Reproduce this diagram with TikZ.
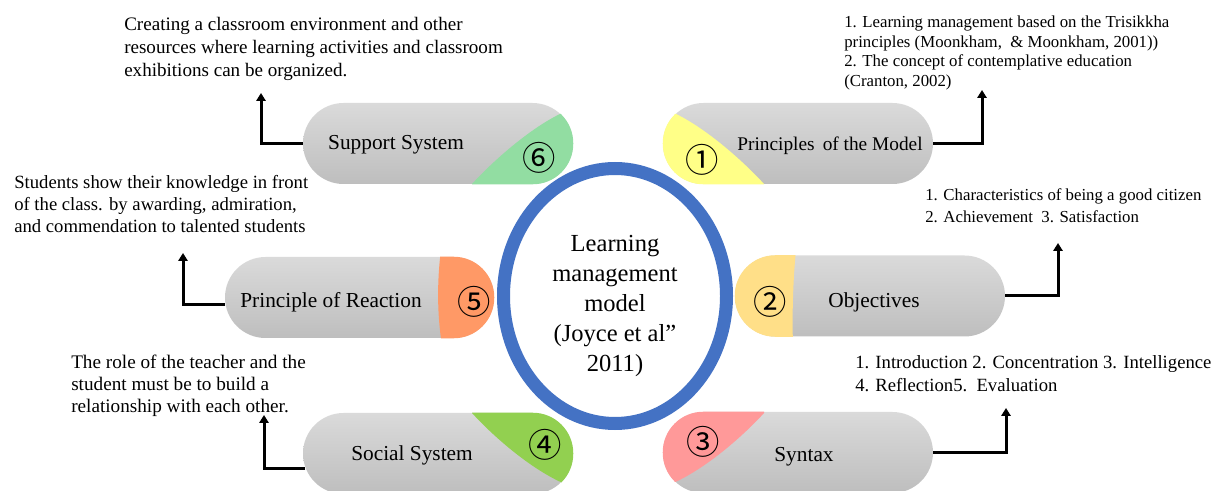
\documentclass[tikz,border=0pt]{standalone}
\usepackage{fontspec}
\setmainfont{Liberation Serif}
\newfontfamily\cjk{Noto Sans CJK SC}
\usetikzlibrary{arrows.meta,shapes.geometric}
\definecolor{pilltop}{HTML}{DADADA}
\definecolor{pillbot}{HTML}{BEBEBE}
\definecolor{cgreenA}{HTML}{92DDA2}
\definecolor{cyellow}{HTML}{FFFF87}
\definecolor{corange}{HTML}{FF9966}
\definecolor{cgold}{HTML}{FFDF88}
\definecolor{cpink}{HTML}{FF9999}
\definecolor{cgreenB}{HTML}{92D050}
\definecolor{ringblue}{HTML}{4472C4}
\begin{document}
\begin{tikzpicture}[x=0.75pt,y=-0.75pt,
  pill/.style={rectangle, rounded corners=30.375pt, minimum width=202.5pt, minimum height=60.75pt, inner sep=0pt, top color=pilltop, bottom color=pillbot, draw=none},
  pillclip/.style={rounded corners=30.375pt},
  lbl/.style={font=\fontsize{16}{19}\selectfont, anchor=base, inner sep=0pt},
  num/.style={font=\cjk\fontsize{25}{25}\selectfont, inner sep=0pt},
  ann/.style={align=left, anchor=north west, inner sep=0pt},
  conn/.style={line width=2.25pt, -{Triangle[width=7pt,length=6pt]}},
]
\useasboundingbox (0,0) rectangle (1225,491);

% pills
\node[pill] (sup) at (438,143.5) {};
\node[pill] (pri) at (798,143.5) {};
\node[pill, minimum width=201.75pt] (rea) at (359.5,297.5) {};
\node[pill] (obj) at (870,296) {};
\node[pill] (soc) at (438,453.5) {};
\node[pill] (syn) at (798,452.5) {};

% coloured parts
\begin{scope}
  \clip[pillclip] (sup.south west) rectangle (sup.north east);
  \fill[cgreenA] (472,184) .. controls (492,162) and (530,128) .. (562,113) -- (600,90) -- (600,200) -- (472,200) -- cycle;
\end{scope}
\begin{scope}
  \clip[pillclip] (pri.south west) rectangle (pri.north east);
  \fill[cyellow] (764,184) .. controls (744,162) and (706,128) .. (674,113) -- (636,90) -- (636,200) -- (764,200) -- cycle;
\end{scope}
\begin{scope}
  \clip[pillclip] (rea.south west) rectangle (rea.north east);
  \fill[corange] (441,250) .. controls (437,280) and (437,315) .. (442,345) -- (510,345) -- (510,250) -- cycle;
\end{scope}
\begin{scope}
  \clip[pillclip] (obj.south west) rectangle (obj.north east);
  \fill[cgold] (796,250) .. controls (793,280) and (792,315) .. (793,345) -- (720,345) -- (720,250) -- cycle;
\end{scope}
\begin{scope}
  \clip[pillclip] (soc.south west) rectangle (soc.north east);
  \fill[cgreenB] (472,413) .. controls (492,435) and (530,469) .. (565,484) -- (600,500) -- (600,400) -- (472,400) -- cycle;
\end{scope}
\begin{scope}
  \clip[pillclip] (syn.south west) rectangle (syn.north east);
  \fill[cpink] (764,413) .. controls (744,435) and (706,469) .. (671,484) -- (636,500) -- (636,400) -- (764,400) -- cycle;
\end{scope}

% pill labels
\node[lbl] (supL) at (396,150) {Support System};
\node[lbl, font=\fontsize{14.5}{17}\selectfont] (priL) at (830,151) {Principles\, of the Model};
\node[lbl] (reaL) at (331,308) {Principle of Reaction};
\node[lbl] (objL) at (874,308) {Objectives};
\node[lbl] (socL) at (412,461) {Social System};
\node[lbl] (synL) at (804,462) {Syntax};

% circled numbers
\node[num] (n6) at (539,158) {⑥};
\node[num] (n1) at (702,160) {①};
\node[num] (n5) at (474,302) {⑤};
\node[num] (n2) at (770,302) {②};
\node[num] (n4) at (545,445) {④};
\node[num] (n3) at (703,442) {③};

% central ellipse
\node[ellipse, draw=ringblue, line width=9.75pt, fill=white, minimum width=167.25pt, minimum height=191.25pt, inner sep=0pt] (ring) at (615,296) {};
\node[font=\fontsize{18.4}{22.5}\selectfont, align=center, inner sep=0pt] (ctr) at (615,306) {Learning\\management\\model\\(Joyce et al”\\2011)};

% annotations
\node[ann, font=\fontsize{14.3}{17.25}\selectfont] (supA) at (124,17) {Creating a classroom environment and other\\resources where learning activities and classroom\\exhibitions can be organized.};
\node[ann, font=\fontsize{12.6}{14.8}\selectfont] (priA) at (844,15.5) {1. Learning management based on the Trisikkha\\principles (Moonkham,\ \ \& Moonkham, 2001))\\2. The concept of contemplative education\\(Cranton, 2002)};
\node[ann, font=\fontsize{12.6}{16.5}\selectfont] (objA) at (925,188.5) {1. Characteristics of being a good citizen\\2. Achievement\ \ 3. Satisfaction};
\node[ann, font=\fontsize{14}{16.5}\selectfont] (reaA) at (14,175) {Students show their knowledge in front\\of the class. by awarding, admiration,\\and commendation to talented students};
\node[ann, font=\fontsize{14.4}{16.5}\selectfont] (socA) at (71,355) {The role of the teacher and the\\student must be to build a\\relationship with each other.};
\node[ann, font=\fontsize{14}{17.25}\selectfont] (synA) at (855,355) {1. Introduction 2. Concentration 3. Intelligence\\4. Reflection5.\ \ Evaluation};

% connectors
\coordinate (supT) at (261,93);
\coordinate (priT) at (982,90);
\coordinate (reaT) at (183,253);
\coordinate (objT) at (1058,243);
\coordinate (socT) at (264,415);
\coordinate (synT) at (1006,408);
\draw[conn] (sup.west) -| (supT);
\draw[conn] (pri.east) -| (priT);
\draw[conn] ([yshift=-5.6pt,xshift=0.5pt]rea.west) -| (reaT);
\draw[conn] (obj.east) -| (objT);
\draw[conn] ([yshift=-10.9pt,xshift=2pt]soc.west) -| (socT);
\draw[conn] (syn.east) -| (synT);
\end{tikzpicture}
\end{document}
